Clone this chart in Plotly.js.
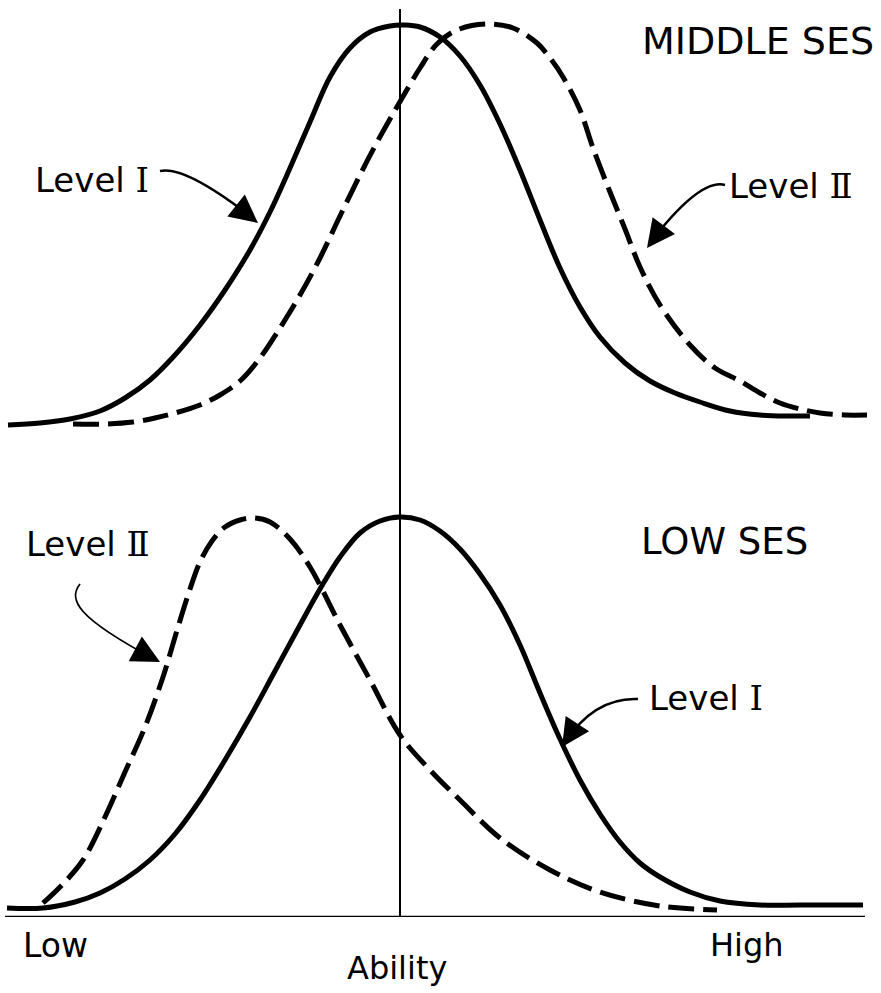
<!DOCTYPE html>
<html>
<head>
<meta charset="utf-8">
<script src="https://cdn.plot.ly/plotly-3.0.1.min.js"></script>
<style>html,body{margin:0;padding:0;background:#fff;}#chart{width:881px;height:993px;}</style>
</head>
<body>
<div id="chart"></div>
<script>
// Ability scale (arbitrary score units) and relative frequency (arbitrary height units)
// ---- MIDDLE SES panel ----
const midLevel1X = [8, 40, 70, 100, 125, 150, 175, 200, 225, 250, 270, 290, 310, 330, 350, 370, 390, 405, 420, 440, 460, 480, 500, 520, 540, 560, 580, 600, 625, 650, 675, 700, 730, 760, 790, 810];
const midLevel1Y = [5, 7, 11, 19, 32, 50, 75, 105, 140, 180, 218, 262, 308, 353, 382, 398, 404, 405, 403, 393, 374, 345, 306, 260, 210, 162, 123, 93, 67, 49, 37, 28, 19, 15, 14, 14];
const midLevel2X = [73, 105, 133, 155, 175, 200, 220, 240, 260, 280, 300, 320, 340, 360, 375, 390, 405, 420, 437, 457, 487, 513, 537, 550, 563, 580, 593, 610, 625, 640, 660, 690, 715, 740, 760, 780, 800, 820, 845, 867];
const midLevel2Y = [6, 6, 8, 12, 17, 25, 35, 49, 72, 102, 135, 172, 214, 255, 284, 311, 337, 362, 386, 400, 406, 402, 387, 372, 353, 320, 282, 238, 201, 163, 125, 85, 62, 49, 37, 27, 21, 17, 15, 15];
// ---- LOW SES panel ----
const lowLevel1X = [7, 43, 75, 100, 125, 150, 175, 200, 225, 250, 275, 300, 320, 340, 360, 380, 400, 420, 440, 460, 480, 500, 520, 540, 560, 580, 600, 620, 640, 660, 690, 720, 760, 800, 863];
const lowLevel1Y = [9, 9, 15, 24, 38, 57, 83, 117, 157, 200, 246, 292, 328, 360, 384, 396, 400, 397, 386, 368, 343, 312, 272, 224, 178, 137, 103, 75, 54, 40, 25, 16, 12, 12, 12];
const lowLevel2X = [43, 60, 83, 105, 125, 145, 163, 178, 190, 200, 212, 225, 240, 255, 270, 290, 310, 340, 370, 400, 430, 460, 500, 550, 600, 660, 717];
const lowLevel2Y = [14, 30, 57, 100, 145, 190, 240, 290, 328, 355, 376, 390, 397, 399, 395, 378, 350, 292, 237, 182, 147, 117, 79, 47, 25, 11, 7];
// labels
const panelLabels = ["MIDDLE SES", "LOW SES"];
const levelWord = "Level";
const levelNumerals = ["Ⅰ", "Ⅱ"];
const axisLabels = ["Low", "Ability", "High"];
const centerAbility = 400;

const FONT = "DejaVu Sans, Liberation Sans, sans-serif";
const solid = {color: "#000", width: 5, shape: "spline", smoothing: 1};
const dashed = {color: "#000", width: 5, shape: "spline", smoothing: 1, dash: "26px,9px"};

const traces = [
  {x: midLevel1X, y: midLevel1Y, xaxis: "x", yaxis: "y", mode: "lines", line: solid, name: "Middle SES Level I", cliponaxis: false},
  {x: midLevel2X, y: midLevel2Y, xaxis: "x", yaxis: "y", mode: "lines", line: dashed, name: "Middle SES Level II", cliponaxis: false},
  {x: lowLevel1X, y: lowLevel1Y, xaxis: "x", yaxis: "y2", mode: "lines", line: solid, name: "Low SES Level I", cliponaxis: false},
  {x: lowLevel2X, y: lowLevel2Y, xaxis: "x", yaxis: "y2", mode: "lines", line: dashed, name: "Low SES Level II", cliponaxis: false}
];

const H = 993;
const shapes = [
  // baselines
  {type: "line", xref: "x", yref: "y", x0: 8, x1: 870, y0: -1.5, y1: -1.5, line: {color: "#000", width: 2.5}},
  {type: "line", xref: "x", yref: "y2", x0: 5, x1: 865, y0: 0, y1: 0, line: {color: "#000", width: 2.5}},
  // center line
  {type: "line", xref: "x", yref: "paper", x0: centerAbility, x1: centerAbility, y0: (H - 917) / H, y1: (H - 9) / H, line: {color: "#000", width: 2}},
  // curved arrow shafts
  {type: "path", xref: "x", yref: "y", path: "M 160 259 Q 185 265 254 211", line: {color: "#000", width: 2.5}},
  {type: "path", xref: "x", yref: "y", path: "M 725 245 Q 700 252 650 187", line: {color: "#000", width: 2.5}},
  {type: "path", xref: "x", yref: "y2", path: "M 80 333 C 68 318 75 300 156 257", line: {color: "#000", width: 1.8}},
  {type: "path", xref: "x", yref: "y2", path: "M 638 218 Q 595 220 565 175", line: {color: "#000", width: 2.5}}
];

function head(x, y, yref, ax, ay) {
  return {x: x, y: y, xref: "x", yref: yref, ax: ax, ay: ay, text: "", showarrow: true,
          arrowhead: 2, arrowsize: 2.8, arrowwidth: 2, arrowcolor: "#000", standoff: 0};
}
function levelText(i) {
  return levelWord + ' <span style="font-family:DejaVu Serif, Liberation Serif, serif">' + levelNumerals[i] + '</span>';
}
function label(text, x, y, yref, size, xanchor) {
  return {x: x, y: y, xref: "x", yref: yref, text: text, showarrow: false, xanchor: xanchor || "left",
          yanchor: "middle", font: {family: FONT, size: size, color: "#000"}};
}

const annotations = [
  label(panelLabels[0], 640, 389, "y", 38),
  label(panelLabels[1], 639, 376, "y2", 37),
  label(levelText(0), 33, 250, "y", 34),
  label(levelText(1), 727, 244, "y", 34),
  label(levelText(1), 24, 373, "y2", 34),
  label(levelText(0), 647, 219, "y2", 34),
  {x: 21, y: (H - 945) / H, xref: "x", yref: "paper", text: axisLabels[0], showarrow: false, xanchor: "left", yanchor: "middle", font: {family: FONT, size: 33, color: "#000"}},
  {x: 397, y: (H - 968) / H, xref: "x", yref: "paper", text: axisLabels[1], showarrow: false, xanchor: "center", yanchor: "middle", font: {family: FONT, size: 32, color: "#000"}},
  {x: 708, y: (H - 945) / H, xref: "x", yref: "paper", text: axisLabels[2], showarrow: false, xanchor: "left", yanchor: "middle", font: {family: FONT, size: 32, color: "#000"}},
  head(258, 207, "y", -15.7, -12.5),
  head(647, 182, "y", 12, -16),
  head(160, 255, "y2", -17.7, -9.4),
  head(562, 170, "y2", 11, -16.7)
];

const layout = {
  width: 881, height: 993,
  margin: {l: 0, r: 0, t: 0, b: 0, pad: 0},
  paper_bgcolor: "#fff", plot_bgcolor: "#fff",
  showlegend: false,
  xaxis: {range: [0, 881], visible: false, fixedrange: true},
  yaxis: {domain: [(H - 430) / H, 1], range: [0, 430], visible: false, fixedrange: true},
  yaxis2: {domain: [(H - 917) / H, (H - 487) / H], range: [0, 430], visible: false, fixedrange: true},
  shapes: shapes,
  annotations: annotations
};

Plotly.newPlot("chart", traces, layout, {staticPlot: true, displayModeBar: false});
</script>
</body>
</html>
